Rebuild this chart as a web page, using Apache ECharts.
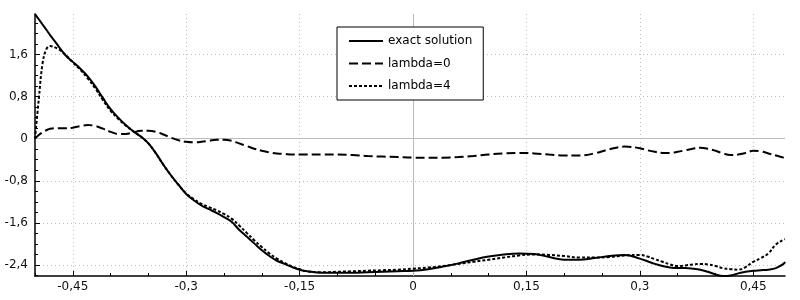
<!DOCTYPE html>
<html>
<head>
<meta charset="utf-8">
<script src="https://cdn.jsdelivr.net/npm/echarts@6/dist/echarts.min.js"></script>
<style>html,body{margin:0;padding:0;background:#fff;}#chart{width:800px;height:300px;}</style>
</head>
<body>
<div id="chart"></div>
<script>
const xValues = [-0.5,-0.495,-0.49,-0.485,-0.48,-0.47,-0.46,-0.45,-0.44,-0.43,-0.42,-0.41,-0.40,-0.39,-0.38,-0.37,-0.36,-0.35,-0.34,-0.33,-0.32,-0.31,-0.30,-0.29,-0.28,-0.27,-0.26,-0.25,-0.24,-0.23,-0.22,-0.21,-0.20,-0.19,-0.18,-0.17,-0.16,-0.15,-0.14,-0.12,-0.10,-0.08,-0.06,-0.04,-0.02,0,0.02,0.04,0.06,0.08,0.10,0.12,0.14,0.16,0.18,0.20,0.22,0.24,0.26,0.28,0.30,0.31,0.32,0.33,0.34,0.35,0.36,0.37,0.38,0.39,0.40,0.41,0.42,0.43,0.44,0.45,0.46,0.47,0.48,0.49,0.492];
const exactY = [2.37,2.27,2.17,2.07,1.97,1.78,1.59,1.46,1.33,1.18,0.99,0.77,0.56,0.40,0.26,0.14,0.04,-0.09,-0.28,-0.50,-0.70,-0.88,-1.05,-1.17,-1.27,-1.34,-1.41,-1.49,-1.58,-1.73,-1.86,-1.99,-2.12,-2.23,-2.32,-2.38,-2.44,-2.49,-2.52,-2.55,-2.55,-2.55,-2.54,-2.53,-2.52,-2.51,-2.48,-2.43,-2.37,-2.30,-2.24,-2.20,-2.18,-2.19,-2.25,-2.30,-2.30,-2.27,-2.23,-2.21,-2.28,-2.33,-2.38,-2.42,-2.45,-2.46,-2.46,-2.47,-2.49,-2.53,-2.58,-2.61,-2.60,-2.56,-2.53,-2.51,-2.50,-2.49,-2.46,-2.38,-2.34];
const lambda0Y = [0,0.07,0.12,0.16,0.19,0.20,0.20,0.21,0.24,0.26,0.24,0.19,0.13,0.09,0.09,0.12,0.15,0.15,0.13,0.08,0.02,-0.03,-0.06,-0.07,-0.06,-0.04,-0.02,-0.02,-0.04,-0.09,-0.14,-0.19,-0.23,-0.26,-0.28,-0.29,-0.30,-0.30,-0.30,-0.30,-0.30,-0.31,-0.33,-0.34,-0.35,-0.36,-0.36,-0.36,-0.35,-0.33,-0.30,-0.28,-0.27,-0.28,-0.30,-0.32,-0.32,-0.28,-0.20,-0.15,-0.18,-0.22,-0.25,-0.27,-0.27,-0.25,-0.22,-0.19,-0.17,-0.19,-0.23,-0.28,-0.31,-0.30,-0.27,-0.23,-0.24,-0.28,-0.32,-0.36,-0.37];
const lambda4Y = [0,0.75,1.43,1.70,1.76,1.71,1.60,1.45,1.31,1.14,0.95,0.73,0.53,0.38,0.25,0.14,0.04,-0.09,-0.28,-0.50,-0.70,-0.88,-1.04,-1.15,-1.24,-1.30,-1.36,-1.43,-1.52,-1.65,-1.79,-1.93,-2.06,-2.18,-2.28,-2.36,-2.43,-2.48,-2.52,-2.54,-2.53,-2.52,-2.51,-2.50,-2.49,-2.47,-2.45,-2.42,-2.38,-2.34,-2.30,-2.26,-2.22,-2.20,-2.21,-2.23,-2.26,-2.26,-2.25,-2.22,-2.21,-2.24,-2.29,-2.34,-2.39,-2.42,-2.41,-2.39,-2.38,-2.39,-2.42,-2.46,-2.48,-2.49,-2.44,-2.34,-2.27,-2.18,-2.01,-1.92,-1.91];
const xMajorTicks = [-0.45,-0.3,-0.15,0,0.15,0.3,0.45];
const xMinorTicks = [-0.5,-0.45,-0.4,-0.35,-0.3,-0.25,-0.2,-0.15,-0.1,-0.05,0,0.05,0.1,0.15,0.2,0.25,0.3,0.35,0.4,0.45];
const yMajorTicks = [-2.4,-1.6,-0.8,0,0.8,1.6];
const yMinorTicks = [-2.6,-2.4,-2.2,-2.0,-1.8,-1.6,-1.4,-1.2,-1.0,-0.8,-0.6,-0.4,-0.2,0,0.2,0.4,0.6,0.8,1.0,1.2,1.4,1.6,1.8,2.0,2.2];
const seriesNames = ['exact solution','lambda=0','lambda=4'];

const xMin = -0.5, xMax = 0.492, yMin = -2.61, yMax = 2.37;
const font = 'DejaVu Sans';
const fmt = v => String(v).replace('.', ',');
const pairs = ys => xValues.map((x, i) => [x, ys[i]]);

const chart = echarts.init(document.getElementById('chart'), null, {renderer: 'canvas'});
const baseX = {type: 'value', min: xMin, max: xMax, position: 'bottom'};
const baseY = {type: 'value', min: yMin, max: yMax, position: 'left'};
chart.setOption({
  animation: false,
  backgroundColor: '#fff',
  grid: {left: 35, right: 15, top: 14, bottom: 24, containLabel: false},
  legend: {
    orient: 'vertical', left: 337, top: 27,
    padding: [8, 11, 8, 11], itemGap: 10.5, itemWidth: 34, itemHeight: 14,
    borderColor: '#000', borderWidth: 1, borderRadius: 0, backgroundColor: '#fff',
    itemStyle: {color: 'rgba(0,0,0,0)', borderColor: 'rgba(0,0,0,0)', borderWidth: 0, opacity: 0},
    textStyle: {fontFamily: font, fontSize: 12, color: '#000'},
    data: seriesNames
  },
  xAxis: [
    Object.assign({}, baseX, {
      axisLine: {show: true, onZero: false, lineStyle: {color: '#000', width: 1.5}},
      axisTick: {show: true, inside: true, length: 5, customValues: xMajorTicks, lineStyle: {color: '#000', width: 1}},
      axisLabel: {show: true, customValues: xMajorTicks, formatter: fmt, margin: 5, fontFamily: font, fontSize: 12, color: '#111'},
      splitLine: {show: true, lineStyle: {color: '#bbb', type: [1, 3], width: 1}}
    }),
    Object.assign({}, baseX, {
      axisLine: {show: false, onZero: false},
      axisTick: {show: true, inside: true, length: 3, customValues: xMinorTicks, lineStyle: {color: '#000', width: 1}},
      axisLabel: {show: false},
      splitLine: {show: false}
    })
  ],
  yAxis: [
    Object.assign({}, baseY, {
      axisLine: {show: true, onZero: false, lineStyle: {color: '#000', width: 1.5}},
      axisTick: {show: true, inside: true, length: 5, customValues: yMajorTicks, lineStyle: {color: '#000', width: 1}},
      axisLabel: {show: true, customValues: yMajorTicks, formatter: fmt, margin: 7, fontFamily: font, fontSize: 12, color: '#111'},
      splitLine: {show: true, lineStyle: {color: '#bbb', type: [1, 3], width: 1}}
    }),
    Object.assign({}, baseY, {
      axisLine: {show: false, onZero: false},
      axisTick: {show: true, inside: true, length: 3, customValues: yMinorTicks, lineStyle: {color: '#000', width: 1}},
      axisLabel: {show: false},
      splitLine: {show: false}
    })
  ],
  series: [
    {
      name: seriesNames[0], type: 'line', data: pairs(exactY), symbol: 'none', smooth: 0.4, z: 3,
      lineStyle: {color: '#000', width: 2, type: 'solid'}, itemStyle: {color: '#000'},
      markLine: {
        silent: true, symbol: 'none', z: 1, animation: false,
        label: {show: false},
        lineStyle: {color: '#bbb', type: 'solid', width: 1},
        data: [{xAxis: 0}, {yAxis: 0}]
      }
    },
    {
      name: seriesNames[1], type: 'line', data: pairs(lambda0Y), symbol: 'none', smooth: 0.4, z: 3,
      lineStyle: {color: '#000', width: 2, type: [9, 4]}, itemStyle: {color: '#000'}
    },
    {
      name: seriesNames[2], type: 'line', data: pairs(lambda4Y), symbol: 'none', smooth: 0.4, z: 3,
      lineStyle: {color: '#000', width: 2, type: [3, 2]}, itemStyle: {color: '#000'}
    }
  ]
});
</script>
</body>
</html>
